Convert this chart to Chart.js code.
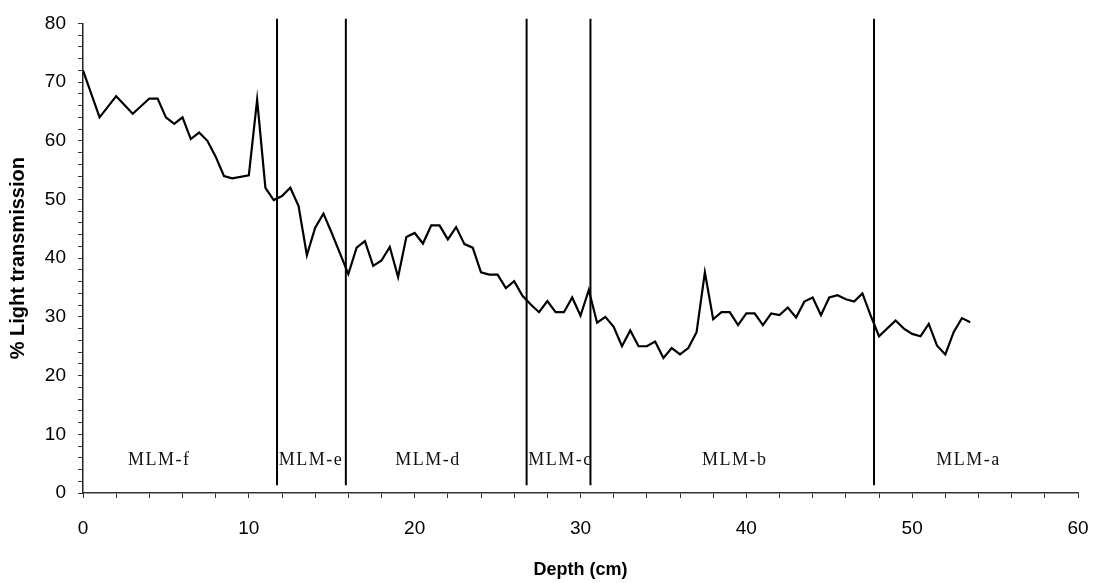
<!DOCTYPE html>
<html>
<head>
<meta charset="utf-8">
<script src="https://cdn.jsdelivr.net/npm/chart.js@4.4.1/dist/chart.umd.min.js"></script>
<style>
  html, body { margin: 0; padding: 0; background: #fff; }
  #wrap { width: 1096px; height: 583px; position: relative; }
</style>
</head>
<body>
<div id="wrap"><canvas id="lightChart"></canvas></div>
<script>
// depth (cm) and % light transmission
const depthCm = [0, 1, 2, 3, 4, 4.5, 5, 5.5, 6, 6.5, 7, 7.5, 8, 8.5, 9, 10, 10.5, 11, 11.5, 12,
  12.5, 13, 13.5, 14, 14.5, 15, 16, 16.5, 17, 17.5, 18, 18.5, 19, 19.5, 20, 20.5, 21, 21.5, 22,
  22.5, 23, 23.5, 24, 24.5, 25, 25.5, 26, 26.5, 27, 27.5, 28, 28.5, 29, 29.5, 30, 30.5, 31, 31.5,
  32, 32.5, 33, 33.5, 34, 34.5, 35, 35.5, 36, 36.5, 37, 37.5, 38, 38.5, 39, 39.5, 40, 40.5, 41,
  41.5, 42, 42.5, 43, 43.5, 44, 44.5, 45, 45.5, 46, 46.5, 47, 47.5, 48, 49, 49.5, 50, 50.5, 51,
  51.5, 52, 52.5, 53, 53.5];
const lightTrans = [72.0, 64.0, 67.6, 64.6, 67.2, 67.2, 64.0, 62.9, 64.0, 60.3, 61.4, 60.0, 57.3, 54.0, 53.6, 54.1, 67.0, 52.0, 49.9, 50.6,
  52.0, 48.9, 40.5, 45.2, 47.6, 44.3, 37.3, 41.8, 42.9, 38.7, 39.6, 41.9, 36.8, 43.6, 44.3, 42.5, 45.6, 45.6, 43.2,
  45.3, 42.4, 41.8, 37.6, 37.2, 37.2, 34.9, 36.1, 33.6, 32.1, 30.8, 32.7, 30.8, 30.8, 33.3, 30.2, 34.6, 29.0, 30.0,
  28.3, 25.0, 27.7, 25.0, 25.0, 25.8, 23.0, 24.7, 23.6, 24.7, 27.4, 37.6, 29.6, 30.8, 30.8, 28.6, 30.6, 30.6, 28.6,
  30.6, 30.3, 31.6, 29.9, 32.6, 33.3, 30.3, 33.3, 33.7, 33.0, 32.6, 34.0, 30.2, 26.7, 29.4, 28.0, 27.1, 26.7, 28.8,
  25.1, 23.6, 27.4, 29.8, 29.1];

// zone boundaries and zone names
const boundaryDepth = [11.7, 15.85, 26.75, 30.6, 47.7];
const boundaryBottom = 1.3;
const boundaryTop = 80.8;
const zoneNames = ['MLM-f', 'MLM-e', 'MLM-d', 'MLM-c', 'MLM-b', 'MLM-a'];
const zoneLabelDepth = [4.6, 13.75, 20.8, 28.8, 39.3, 53.4];
const zoneLabelY = 5.6;

const profile = depthCm.map((d, i) => ({ x: d, y: lightTrans[i] }));

const boundarySets = boundaryDepth.map(d => ({
  data: [{ x: d, y: boundaryBottom }, { x: d, y: boundaryTop }],
  borderColor: '#000',
  borderWidth: 2,
  pointRadius: 0,
  clip: false
}));

// writes the zone names inside the plot
const zoneText = {
  id: 'zoneText',
  afterDatasetsDraw(chart) {
    const ctx = chart.ctx;
    const xs = chart.scales.x, ys = chart.scales.y;
    ctx.save();
    ctx.font = '18px "Liberation Serif", "Times New Roman", serif';
    ctx.fillStyle = '#111';
    ctx.textAlign = 'center';
    ctx.textBaseline = 'middle';
    ctx.letterSpacing = '1.5px';
    zoneNames.forEach((name, i) => {
      ctx.fillText(name, xs.getPixelForValue(zoneLabelDepth[i]), ys.getPixelForValue(zoneLabelY));
    });
    ctx.restore();
  }
};

const tickFont = { family: '"Liberation Sans", Arial, sans-serif', size: 19 };
const fontFamily = '"Liberation Sans", Arial, sans-serif';

const ctx = document.getElementById('lightChart').getContext('2d');
const lightChart = new Chart(ctx, {
  type: 'line',
  data: {
    datasets: [{
      data: profile,
      borderColor: '#000',
      borderWidth: 2.2,
      pointRadius: 0,
      tension: 0
    }].concat(boundarySets)
  },
  options: {
    responsive: true,
    maintainAspectRatio: false,
    animation: false,
    layout: { padding: { left: 6, right: 18, top: 17, bottom: 0 } },
    plugins: {
      legend: { display: false },
      tooltip: { enabled: false }
    },
    scales: {
      x: {
        type: 'linear',
        min: 0,
        max: 60,
        border: { color: '#333', width: 1.5 },
        grid: { drawOnChartArea: false, drawTicks: true, tickLength: 5, color: '#333' },
        ticks: {
          stepSize: 2,
          autoSkip: false,
          maxRotation: 0,
          padding: 19,
          color: '#000',
          font: tickFont,
          callback: v => (v % 10 === 0 ? v : '')
        },
        title: {
          display: true, text: 'Depth (cm)', color: '#000',
          font: { family: fontFamily, size: 18, weight: 'bold' },
          padding: { top: 0, bottom: 2 }
        },
        afterFit: s => {
          s.height = 90;
          s.paddingLeft = 0;
          s.paddingRight = 0;
        }
      },
      y: {
        min: 0,
        max: 80,
        border: { color: '#222', width: 1.5 },
        grid: { drawOnChartArea: false, drawTicks: true, tickLength: 5, color: '#333' },
        ticks: {
          stepSize: 2,
          autoSkip: false,
          padding: 12,
          color: '#000',
          font: tickFont,
          callback: v => (v % 10 === 0 ? v : '')
        },
        title: {
          display: true, text: '% Light transmission', color: '#000',
          font: { family: fontFamily, size: 20, weight: 'bold' },
          padding: { top: 0, bottom: 0 }
        },
        afterFit: s => { s.width = 77; }
      }
    }
  },
  plugins: [zoneText]
});
</script>
</body>
</html>
